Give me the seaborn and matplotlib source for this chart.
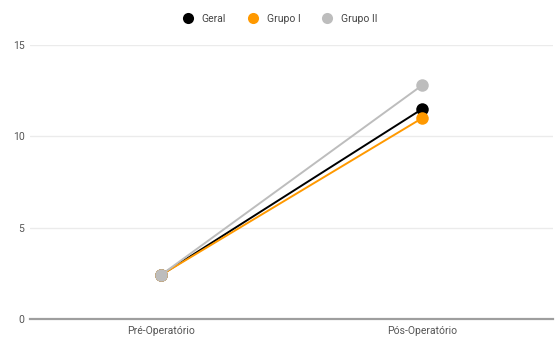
import matplotlib
matplotlib.use("Agg")
import matplotlib.pyplot as plt
import seaborn as sns
import pandas as pd

periods = ["Pré-Operatório", "Pós-Operatório"]
geral = [2.4, 11.5]
grupo_1 = [2.4, 11.0]
grupo_2 = [2.4, 12.8]
series_names = ["Geral", "Grupo I", "Grupo II"]
colors = ["#000000", "#FF9900", "#BDBDBD"]
y_ticks = [0, 5, 10, 15]

rows = []
for name, vals in zip(series_names, [geral, grupo_1, grupo_2]):
    for i, (p, v) in enumerate(zip(periods, vals)):
        rows.append({"pos": i, "periodo": p, "valor": v, "serie": name})
df = pd.DataFrame(rows)

sns.set_theme(style="white")
plt.rcParams["font.family"] = ["Roboto", "DejaVu Sans"]

fig = plt.figure(figsize=(5.55, 3.38), dpi=100)
ax = fig.add_axes([30 / 555, 19 / 338, 523 / 555, 274 / 338])

sns.lineplot(data=df, x="pos", y="valor", hue="serie", hue_order=series_names,
             palette=colors, marker="o", markersize=9, markeredgewidth=0,
             linewidth=1.4, ax=ax, legend=False)

ax.set_xlim(-0.5, 1.5)
ax.set_ylim(0, 15)
ax.set_xticks(range(len(periods)))
ax.set_xticklabels(periods)
ax.set_yticks(y_ticks)
ax.set_xlabel("")
ax.set_ylabel("")
ax.tick_params(axis="both", length=0, labelsize=7.5, colors="#555555")
ax.tick_params(axis="x", pad=5)
ax.tick_params(axis="y", pad=4)
ax.grid(axis="y", color="#EBEBEB", linewidth=1)
ax.set_axisbelow(True)
for side in ["top", "right", "left"]:
    ax.spines[side].set_visible(False)
ax.spines["bottom"].set_color("#9E9E9E")
ax.spines["bottom"].set_linewidth(1.6)

handles = [plt.Line2D([], [], marker="o", linestyle="", markersize=8,
                      color=c, markeredgewidth=0) for c in colors]
fig.legend(handles, series_names, loc="center", bbox_to_anchor=(0.5, 1 - 19 / 338),
           ncol=3, frameon=False, fontsize=7.5, handletextpad=0.3,
           columnspacing=1.6, labelcolor="#444444")

fig.savefig("out.png", dpi=100, facecolor="white")
